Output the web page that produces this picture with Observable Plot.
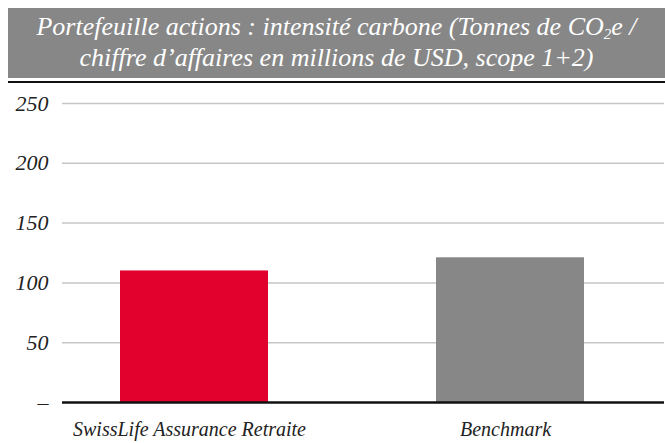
<!DOCTYPE html>
<html><head><meta charset="utf-8">
<script src="https://cdn.jsdelivr.net/npm/d3@7"></script>
<script src="https://cdn.jsdelivr.net/npm/@observablehq/plot@0.6"></script>
<style>
html,body{margin:0;padding:0;background:#fff;}
body{width:665px;height:443px;overflow:hidden;font-family:"Liberation Serif",serif;}
#title{margin:8px 0 0 8px;height:70px;background:#878787;color:#fff;font-style:italic;font-size:26px;line-height:31px;text-align:center;padding-top:3px;box-sizing:border-box;white-space:nowrap;}
#rule{margin:3px 0 0 8px;height:2px;background:#111;}
#chart{margin-top:2px;}
</style></head>
<body>
<div id="title">Portefeuille actions : intensité carbone (Tonnes de CO<sub style="font-size:15px;vertical-align:-4px;line-height:0">2</sub>e /<br>chiffre d’affaires en millions de USD, scope 1+2)</div>
<div id="rule"></div>
<div id="chart"></div>
<script>
const categories = ["SwissLife Assurance Retraite", "Benchmark"];
const values = [110, 121];
const colors = ["#e2002d", "#878787"];
const yTicks = [0, 50, 100, 150, 200, 250];

const fam = '"Liberation Serif", serif';
const data = categories.map((c, i) => ({cat: c, value: values[i], color: colors[i]}));

const chart = Plot.plot({
  width: 665,
  height: 358,
  marginLeft: 62,
  marginRight: 1,
  marginTop: 18,
  marginBottom: 41,
  style: {fontFamily: fam, fontStyle: "italic", background: "transparent", overflow: "visible"},
  x: {domain: categories, paddingInner: 0.532, paddingOuter: 0.218, align: 0.42, label: null},
  y: {domain: [0, 250], label: null},
  marks: [
    Plot.ruleY(yTicks.filter(d => d > 0), {stroke: "#c6c6c6", strokeWidth: 1.5}),
    Plot.barY(data, {x: "cat", y: "value", fill: "color"}),
    Plot.ruleY([0], {stroke: "#111", strokeWidth: 2.5}),
    Plot.axisY({ticks: yTicks, tickSize: 0, tickPadding: 14, tickFormat: d => d === 0 ? "–" : d, fontSize: 22, fontStyle: "italic", fontFamily: fam, fill: "#222"}),
    Plot.axisX({tickSize: 0, tickPadding: 19, dx: -5, fontSize: 20, fontStyle: "italic", fontFamily: fam, fill: "#222"})
  ]
});
document.getElementById("chart").appendChild(chart);
</script>
</body></html>
